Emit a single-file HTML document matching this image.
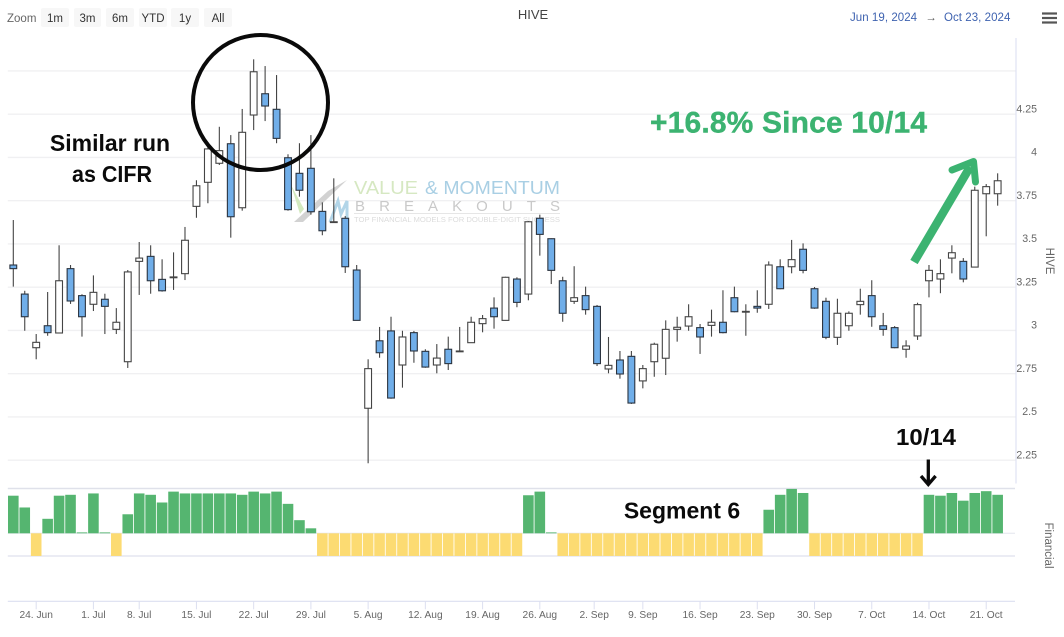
<!DOCTYPE html>
<html lang="en">
<head>
<meta charset="utf-8">
<title>HIVE chart</title>
<style>
  html, body { margin: 0; padding: 0; background: #fff; width: 1064px; height: 637px; overflow: hidden; }
  svg { display: block; font-family: "Liberation Sans", sans-serif; }
</style>
</head>
<body>
<svg id="chart" xmlns="http://www.w3.org/2000/svg" width="1064" height="637" viewBox="0 0 1064 637">
  <rect x="0" y="0" width="1064" height="637" fill="#ffffff"/>

  <g font-size="11.5" text-anchor="middle">
    <text x="7" y="22" text-anchor="start" fill="#666666">Zoom</text>
    <g><rect x="41" y="8" width="28" height="19" rx="2" fill="#f7f7f7"/><text x="55" y="22" fill="#333333">1m</text></g>
    <g><rect x="74" y="8" width="27" height="19" rx="2" fill="#f7f7f7"/><text x="87.5" y="22" fill="#333333">3m</text></g>
    <g><rect x="106" y="8" width="28" height="19" rx="2" fill="#f7f7f7"/><text x="120" y="22" fill="#333333">6m</text></g>
    <g><rect x="139" y="8" width="28" height="19" rx="2" fill="#f7f7f7"/><text x="153" y="22" fill="#333333">YTD</text></g>
    <g><rect x="171" y="8" width="28" height="19" rx="2" fill="#f7f7f7"/><text x="185" y="22" fill="#333333">1y</text></g>
    <g><rect x="204" y="8" width="28" height="19" rx="2" fill="#f7f7f7"/><text x="218" y="22" fill="#333333">All</text></g>
  </g>

  <text x="533" y="19" text-anchor="middle" font-size="13" fill="#444444">HIVE</text>
  <g font-size="11.5" fill="#3f63b0">
    <text x="850" y="21" letter-spacing="0.05">Jun 19, 2024</text>
    <text x="931" y="21" text-anchor="middle" fill="#555555">→</text>
    <text x="944" y="21" letter-spacing="0.05">Oct 23, 2024</text>
  </g>
  <g stroke="#555555" stroke-width="2.2">
    <line x1="1042" x2="1057" y1="13.5" y2="13.5"/>
    <line x1="1042" x2="1057" y1="18" y2="18"/>
    <line x1="1042" x2="1057" y1="22.5" y2="22.5"/>
  </g>

  <g id="grid"></g>
  <line x1="1016" x2="1016" y1="38" y2="483.5" stroke="#dfe3f3" stroke-width="1.2"/>
  <g id="yticks"></g>
  <text transform="translate(1046,261) rotate(90)" text-anchor="middle" font-size="11.5" fill="#666666">HIVE</text>

  <g>
    <polygon points="291,185 300,214 304,209" fill="#d3e9bf"/>
    <polygon points="294,222 303,222 347,180 328,191" fill="#d2d2d2"/>
    <path d="M330,222 L338,201 L341,214 L347,201 L347,222" fill="none" stroke="#b2d5e8" stroke-width="3"/>
    <text x="354" y="194" font-size="18.5" fill="#d6e8c2" textLength="64" lengthAdjust="spacingAndGlyphs">VALUE</text>
    <text x="425" y="194" font-size="18.5" fill="#a9cfe4" textLength="135" lengthAdjust="spacingAndGlyphs">&amp; MOMENTUM</text>
    <text x="355" y="211" font-size="15" fill="#c9c9c9" textLength="205">BREAKOUTS</text>
    <line x1="354" x2="560" y1="213.5" y2="213.5" stroke="#e6e6e6" stroke-width="1"/>
    <text x="354" y="222" font-size="7.6" fill="#dcdcdc" textLength="206" lengthAdjust="spacingAndGlyphs">TOP FINANCIAL MODELS FOR DOUBLE-DIGIT SUCCESS</text>
  </g>

  <g id="candles"></g>

  <line x1="7.8" x2="1015" y1="488.5" y2="488.5" stroke="#dfe1ea" stroke-width="1.5"/>
  <line x1="7.8" x2="1015" y1="533.3" y2="533.3" stroke="#e4e6ee" stroke-width="1"/>
  <line x1="7.8" x2="1015" y1="556" y2="556" stroke="#dfe1ee" stroke-width="1.2"/>
  <g id="finbars"></g>
  <text transform="translate(1045,545.500) rotate(90)" text-anchor="middle" font-size="11.5" fill="#666666">Financial</text>

  <line x1="7.8" x2="1015" y1="601.3" y2="601.3" stroke="#dcdff0" stroke-width="1.2"/>
  <g id="xticks"></g>

  <g>
    <ellipse cx="260.5" cy="102.5" rx="67.5" ry="67.5" fill="none" stroke="#0a0a0a" stroke-width="4"/>
    <text x="110" y="151" text-anchor="middle" font-size="23" font-weight="700" fill="#0b0b0b">Similar run</text>
    <text x="72" y="182" font-size="23" font-weight="700" fill="#0b0b0b" textLength="80" lengthAdjust="spacingAndGlyphs">as CIFR</text>
    <text x="650" y="132.300" font-size="30" font-weight="700" fill="#3cb371" stroke="#3cb371" stroke-width="0.4" textLength="277">+16.8% Since 10/14</text>
    <g stroke="#3cb371" fill="none" stroke-linecap="round" stroke-linejoin="round">
      <line x1="914" y1="262" x2="970" y2="167" stroke-width="8.5" stroke-linecap="butt"/>
      <polyline points="952,170 973.500,161.500 975.500,182" stroke-width="7"/>
    </g>
    <text x="896" y="445" font-size="23" font-weight="700" fill="#0b0b0b" textLength="60" lengthAdjust="spacingAndGlyphs">10/14</text>
    <g stroke="#0b0b0b" stroke-width="3.3" fill="none">
      <line x1="928.3" y1="459.500" x2="928.3" y2="483"/>
      <polyline points="921,476 928.300,484.500 935.600,476"/>
    </g>
    <text x="682" y="518.500" text-anchor="middle" font-size="23" font-weight="700" fill="#0b0b0b">Segment 6</text>
  </g>
</svg>

<script>
const opens = [3.378,3.210,2.900,3.027,2.985,3.357,3.201,3.151,3.180,3.006,2.819,3.399,3.428,3.295,3.306,3.328,3.717,3.856,3.966,4.079,3.709,4.245,4.368,4.278,3.998,3.908,3.937,3.688,3.625,3.648,3.349,2.550,2.940,2.997,2.800,2.987,2.879,2.800,2.891,2.877,2.929,3.039,3.129,3.058,3.297,3.210,3.648,3.530,3.287,3.168,3.201,3.139,2.777,2.829,2.850,2.708,2.819,2.839,3.006,3.025,3.016,3.029,3.047,3.189,3.108,3.139,3.151,3.368,3.368,3.469,3.241,3.168,2.960,3.027,3.149,3.201,3.027,3.016,2.891,2.968,3.287,3.297,3.418,3.399,3.366,3.790,3.790];
const highs = [3.638,3.229,2.979,3.222,3.492,3.378,3.209,3.318,3.212,3.129,3.349,3.511,3.492,3.411,3.451,3.598,3.868,4.060,4.177,4.129,4.280,4.567,4.528,4.476,4.018,4.082,4.129,3.740,3.879,3.661,3.378,2.833,3.020,3.079,2.998,2.997,2.891,2.921,2.964,3.020,3.079,3.089,3.191,3.310,3.307,3.632,3.669,3.532,3.310,3.371,3.253,3.147,2.962,2.881,2.881,2.800,2.929,3.058,3.079,3.151,3.037,3.120,3.232,3.253,3.151,3.232,3.399,3.411,3.523,3.503,3.251,3.189,3.183,3.110,3.241,3.290,3.101,3.025,2.943,3.160,3.378,3.411,3.492,3.418,3.831,3.846,3.908];
const lows = [3.253,2.998,2.833,2.969,2.985,3.153,2.964,3.112,2.979,2.979,2.783,3.205,3.212,3.224,3.234,3.291,3.651,3.735,3.956,3.536,3.692,4.158,4.210,4.082,3.692,3.773,3.669,3.550,3.624,3.332,3.057,2.232,2.842,2.605,2.669,2.813,2.784,2.752,2.771,2.875,2.929,2.989,3.010,3.057,3.134,3.174,3.432,3.268,3.050,3.153,3.091,2.794,2.752,2.721,2.575,2.665,2.732,2.742,2.935,2.998,2.864,2.964,2.983,3.105,2.969,3.102,3.124,3.238,3.330,3.330,3.125,2.949,2.916,2.998,3.091,3.021,2.969,2.897,2.842,2.945,3.191,3.215,3.330,3.278,3.366,3.544,3.721];
const closes = [3.357,3.079,2.931,2.987,3.287,3.170,3.079,3.220,3.139,3.047,3.338,3.418,3.287,3.229,3.309,3.521,3.836,4.049,4.039,3.657,4.145,4.495,4.297,4.110,3.698,3.810,3.686,3.576,3.628,3.368,3.058,2.779,2.871,2.609,2.962,2.881,2.788,2.840,2.808,2.881,3.047,3.068,3.079,3.307,3.162,3.628,3.555,3.347,3.099,3.189,3.120,2.808,2.798,2.748,2.580,2.779,2.920,3.006,3.018,3.079,2.962,3.047,2.987,3.108,3.110,3.129,3.378,3.241,3.409,3.347,3.129,2.960,3.099,3.099,3.168,3.079,3.006,2.900,2.910,3.149,3.347,3.328,3.449,3.297,3.810,3.831,3.865];
const financialScores = [83,57,-50,32,83,85,2,88,2,-50,42,88,85,68,92,88,88,88,88,88,85,92,88,92,65,29,11,-50,-50,-50,-50,-50,-50,-50,-50,-50,-50,-50,-50,-50,-50,-50,-50,-50,-50,84,92,2,-50,-50,-50,-50,-50,-50,-50,-50,-50,-50,-50,-50,-50,-50,-50,-50,-50,-50,52,85,98,89,-50,-50,-50,-50,-50,-50,-50,-50,-50,-50,85,83,89,72,89,93,85];
const gridValues = [4.5,4.25,4,3.75,3.5,3.25,3,2.75,2.5,2.25];
const priceTickLabels = ["4.25","4","3.75","3.5","3.25","3","2.75","2.5","2.25"];
const timeTickLabels = ["24. Jun","1. Jul","8. Jul","15. Jul","22. Jul","29. Jul","5. Aug","12. Aug","19. Aug","26. Aug","2. Sep","9. Sep","16. Sep","23. Sep","30. Sep","7. Oct","14. Oct","21. Oct"];
const timeTickSessions = [2,7,11,16,21,26,31,36,41,46,50.75,55,60,65,70,75,80,85];

const SVG_NS = 'http://www.w3.org/2000/svg';
const xScale = function (i) { return 13.3 + i * 11.446; };
const yScale = function (v) { return 157.4 + (4 - v) * 173; };
const finScale = function (v) { return 533.3 - v * 0.453; };

function make(tag, attrs, parent) {
  const el = document.createElementNS(SVG_NS, tag);
  for (const k in attrs) el.setAttribute(k, attrs[k]);
  parent.appendChild(el);
  return el;
}

const gridG = document.getElementById('grid');
gridValues.forEach(function (v) {
  const y = yScale(v);
  const line = make('line', { x1: 7.8, x2: 1015.5, y1: y, y2: y, stroke: '#f0f0f2', 'stroke-width': 1.4 }, gridG);
  
  
});

const yTickG = document.getElementById('yticks');
priceTickLabels.forEach(function (label) {
  const t = make('text', { x: 1037, y: yScale(parseFloat(label)) - 1.7, 'text-anchor': 'end', 'font-size': 10.6, fill: '#666666' }, yTickG);
  
  
  t.textContent = label;
});

const candleG = document.getElementById('candles');
opens.forEach(function (open, i) {
  const close = closes[i];
  const x = xScale(i);
  const top = yScale(Math.max(open, close));
  const bottom = yScale(Math.min(open, close));
  const down = close < open;
  const g = make('g', {}, candleG);
  
  
  const wick = make('line', { x1: x, x2: x, y1: yScale(highs[i]), y2: yScale(lows[i]), stroke: '#444444', 'stroke-width': 1.1 }, g);
  
  
  const body = make('rect', { x: x - 3.4, y: top, width: 6.8, height: Math.max(bottom - top, 0.8), fill: down ? '#70aee9' : '#ffffff', stroke: down ? '#2b3440' : '#444444', 'stroke-width': 1.1 }, g);
  
  
});

const finG = document.getElementById('finbars');
financialScores.forEach(function (score, i) {
  const y0 = finScale(0);
  const y1 = finScale(score);
  const bar = make('rect', { x: xScale(i) - 5.3, y: Math.min(y0, y1), width: 10.6, height: Math.abs(y1 - y0), fill: score >= 0 ? '#55b570' : '#fcdb72' }, finG);
  
  
});

const xTickG = document.getElementById('xticks');
timeTickLabels.forEach(function (label, i) {
  const x = xScale(timeTickSessions[i]);
  const tick = make('line', { x1: x, x2: x, y1: 601.3, y2: 609.3, stroke: '#dcdff0', 'stroke-width': 1 }, xTickG);
  
  
  const t = make('text', { x: x, y: 618, 'text-anchor': 'middle', 'font-size': 10.2, fill: '#666666' }, xTickG);
  
  
  t.textContent = label;
});
</script>
</body>
</html>
